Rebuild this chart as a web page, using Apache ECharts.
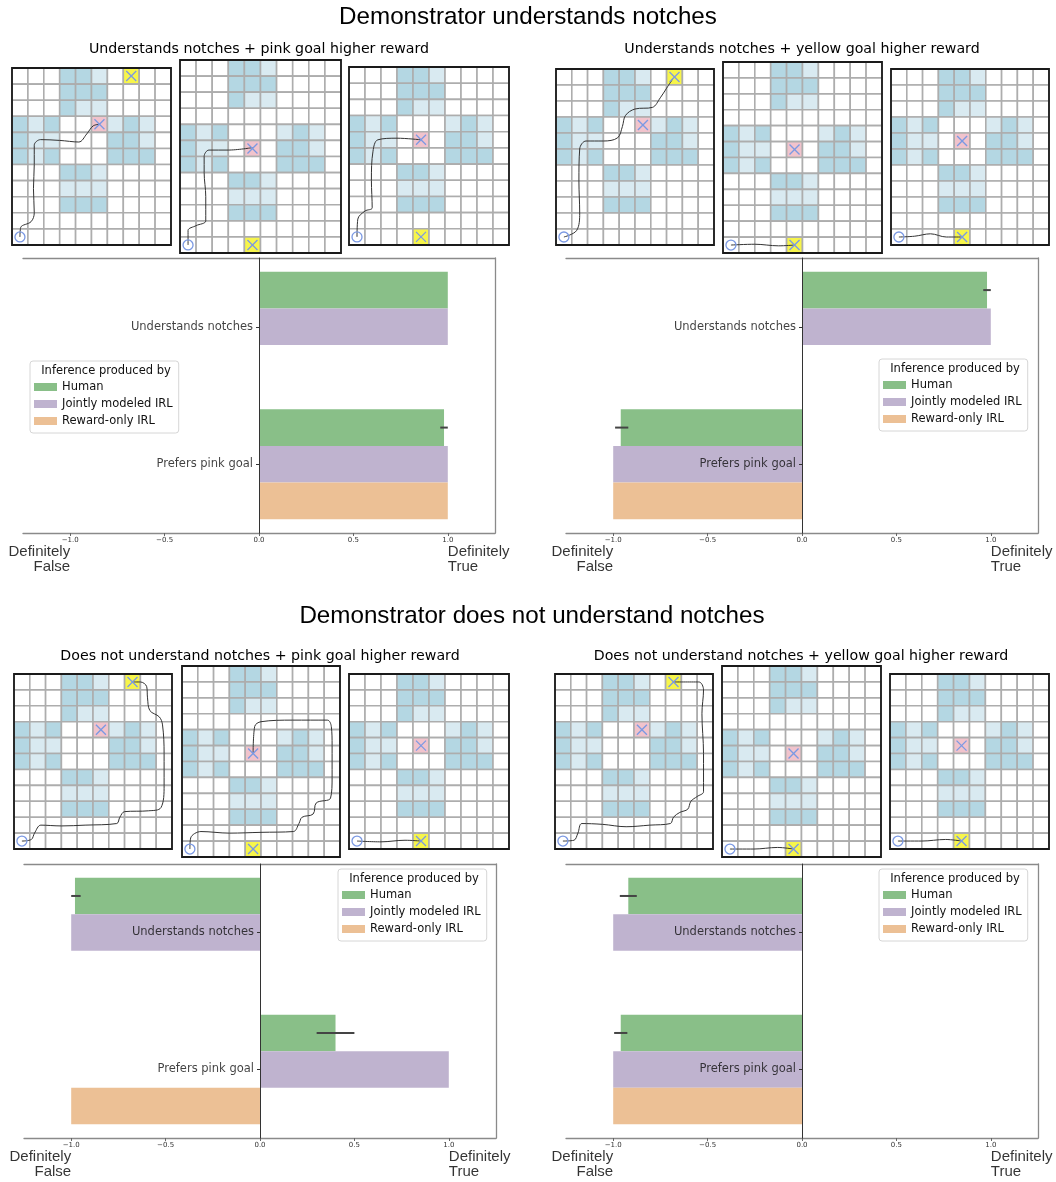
<!DOCTYPE html>
<html>
<head>
<meta charset="utf-8">
<script src="https://cdn.jsdelivr.net/npm/echarts@6.0.0/dist/echarts.min.js"></script>
<style>
html,body{margin:0;padding:0;background:#fff;}
#chart{width:1056px;height:1182px;}
</style>
</head>
<body>
<div id="chart"></div>
<script>
// ---------------- DATA ----------------
// Gridworld layouts: '.' empty, 'L' light notch, 'D' dark wall, 'P' pink goal, 'Y' yellow goal
const layoutA = [
  "...DDL.Y..",
  "...DDD....",
  "...DLL....",
  "DLD..PLDL.",
  "DLL...DDL.",
  "DLD...DDD.",
  "...DDL....",
  "...LLL....",
  "...DDD....",
  "..........",
  ".........."
];
const layoutB = [
  "...DDL....",
  "...DDD....",
  "...DLL....",
  "..........",
  "DLD...LDL.",
  "DLL.P.DDL.",
  "DLD...DDD.",
  "...DDL....",
  "...LLL....",
  "...DDD....",
  "..........",
  "....Y....."
];
const layoutC = [
  "...DDL....",
  "...DDD....",
  "...DLL....",
  "DLD...LDL.",
  "DLL.P.DDL.",
  "DLD...DDD.",
  "...DDL....",
  "...LLL....",
  "...DDD....",
  "..........",
  "....Y....."
];

// Trajectories (column, row)
const trajTL_A = [[0.5,10.5],[0.55,9.9],[1.2,9.55],[1.4,9.0],[1.35,7.5],[1.4,6],[1.4,4.8],[1.8,4.45],[3,4.5],[4.2,4.6],[4.7,4.1],[5.1,3.6],[5.5,3.5]];
const trajTL_B = [[0.5,11.5],[0.5,10.6],[1.0,10.3],[1.6,10.0],[1.6,8.5],[1.5,7],[1.5,6.0],[1.8,5.6],[3,5.6],[4.5,5.45]];
const trajTL_C = [[0.5,10.5],[0.55,9.4],[1.0,8.9],[1.45,8.7],[1.4,7],[1.5,5.2],[1.8,4.5],[3,4.4],[4.5,4.5]];
const trajTR_A = [[0.5,10.5],[1.3,10.1],[1.5,9],[1.45,7],[1.5,5],[1.9,4.5],[3,4.5],[3.9,4.3],[4.2,3.6],[4.4,2.9],[5,2.5],[6.1,2.4],[6.6,1.8],[7.0,1.2],[7.4,0.6]];
const trajTR_B = [[0.5,11.5],[2,11.45],[3.5,11.55],[4.5,11.5]];
const trajTR_C = [[0.5,10.5],[1.5,10.45],[2.5,10.3],[3.5,10.5],[4.5,10.5]];
const trajBL_A = [[0.5,10.5],[1.1,10.4],[1.3,10.0],[1.7,9.5],[3,9.55],[4.5,9.5],[6.5,9.4],[6.7,9.0],[7.0,8.65],[8.5,8.6],[9.3,8.4],[9.5,7],[9.5,5],[9.4,3.2],[9.2,2.7],[8.6,2.3],[8.45,1.5],[8.4,0.8],[8.0,0.5],[7.5,0.5]];
const trajBL_B = [[0.5,11.5],[0.55,10.8],[1.2,10.4],[3,10.5],[5,10.45],[7.05,10.4],[7.4,9.9],[7.6,9.5],[8.3,9.3],[8.5,8.6],[9.4,8.3],[9.5,7],[9.5,5],[9.45,3.8],[9.2,3.4],[7,3.4],[5,3.5],[4.6,3.8],[4.5,5.5]];
const trajBL_C = [[0.5,10.5],[2,10.55],[3.5,10.45],[4.5,10.5]];
const trajBR_A = [[0.5,10.5],[1.2,10.45],[1.45,10.0],[1.7,9.4],[3,9.45],[4.5,9.6],[6,9.5],[7.3,9.4],[7.5,9.0],[7.9,8.7],[8.4,8.5],[8.6,8.0],[9.0,7.7],[9.4,7.4],[9.4,5],[9.3,2.5],[9.4,1.0],[9.1,0.5],[7.5,0.5]];
const trajBR_B = [[0.5,11.5],[2,11.5],[3.5,11.4],[4.5,11.5]];
const trajBR_C = [[0.5,10.5],[2,10.5],[3.5,10.4],[4.5,10.5]];

// Bar chart data
const categories = ['Understands notches', 'Prefers pink goal'];
const seriesNames = ['Human', 'Jointly modeled IRL', 'Reward-only IRL'];
const xTicks = [-1, -0.5, 0, 0.5, 1];

const humanTL = [1.0, 0.98];
const jointTL = [1.0, 1.0];
const rewardTL = [null, 1.0];
const errTL = [[0.96, 1.0, 1]];

const humanTR = [0.98, -0.96];
const jointTR = [1.0, -1.0];
const rewardTR = [null, -1.0];
const errTR = [[0.96, 1.0, 0], [-0.99, -0.92, 1]];

const humanBL = [-0.98, 0.40];
const jointBL = [-1.0, 1.0];
const rewardBL = [null, -1.0];
const errBL = [[-1.0, -0.95, 0], [0.30, 0.50, 1]];

const humanBR = [-0.92, -0.96];
const jointBR = [-1.0, -1.0];
const rewardBR = [null, -1.0];
const errBR = [[-0.965, -0.875, 0], [-0.995, -0.925, 1]];

// ---------------- STYLE / LAYOUT ----------------
const DJ = 'DejaVu Sans';
const AR = 'Liberation Sans, Arial, sans-serif';
const cellColors = ['#ffffff', '#d9eaf1', '#b4d7e3', '#f1c3cc', '#f7f54a'];
const barColors = ['#89bf88', '#bfb3cf', '#ecc095'];
const markColor = '#7b99e3';

const option = {animation: false, backgroundColor: '#fff', grid: [], xAxis: [], yAxis: [], series: [], legend: [], graphic: []};
function push(key, obj) { option[key].push(obj); return option[key].length - 1; }

const CELL = {'.': 0, 'L': 1, 'D': 2, 'P': 3, 'Y': 4};
function cellsOf(layout) {
  const out = [];
  layout.forEach((row, r) => { for (let c = 0; c < row.length; c++) out.push([c, r, CELL[row[c]]]); });
  return out;
}
function goalsOf(layout) {
  const out = [];
  layout.forEach((row, r) => { for (let c = 0; c < row.length; c++) if (row[c] === 'P' || row[c] === 'Y') out.push([c + 0.5, r + 0.5, 0]); });
  return out;
}

function gridworld(box, layout, traj) {
  const rows = layout.length, cols = layout[0].length;
  const gi = push('grid', {left: box[0], top: box[1], width: box[2], height: box[3], containLabel: false, outerBoundsMode: 'none'});
  const xi = push('xAxis', {type: 'value', gridIndex: gi, min: 0, max: cols, show: false});
  const yi = push('yAxis', {type: 'value', gridIndex: gi, min: 0, max: rows, inverse: true, show: false});
  push('series', {
    type: 'custom', xAxisIndex: xi, yAxisIndex: yi, silent: true, z: 1,
    data: cellsOf(layout), encode: {x: 0, y: 1},
    renderItem: function (params, api) {
      const c = api.value(0), r = api.value(1), t = api.value(2);
      const p0 = api.coord([c, r]), p1 = api.coord([c + 1, r + 1]);
      return {type: 'rect', shape: {x: Math.min(p0[0], p1[0]), y: Math.min(p0[1], p1[1]), width: Math.abs(p1[0] - p0[0]), height: Math.abs(p1[1] - p0[1])},
        style: {fill: cellColors[t], stroke: '#adadad', lineWidth: 1.6}};
    }
  });
  push('series', {
    type: 'line', xAxisIndex: xi, yAxisIndex: yi, data: traj, smooth: 0.35, symbol: 'none', silent: true, z: 3,
    lineStyle: {color: '#333', width: 1}
  });
  push('series', {
    type: 'custom', xAxisIndex: xi, yAxisIndex: yi, silent: true, z: 4,
    data: goalsOf(layout).concat([[0.5, rows - 0.5, 1]]), encode: {x: 0, y: 1},
    renderItem: function (params, api) {
      const p = api.coord([api.value(0), api.value(1)]);
      const s = 5;
      if (api.value(2) === 1) {
        return {type: 'circle', shape: {cx: p[0], cy: p[1], r: 5}, style: {fill: 'none', stroke: markColor, lineWidth: 1.3}};
      }
      return {type: 'group', children: [
        {type: 'line', shape: {x1: p[0] - s, y1: p[1] - s, x2: p[0] + s, y2: p[1] + s}, style: {stroke: markColor, lineWidth: 1.3}},
        {type: 'line', shape: {x1: p[0] + s, y1: p[1] - s, x2: p[0] - s, y2: p[1] + s}, style: {stroke: markColor, lineWidth: 1.3}}
      ]};
    }
  });
  push('series', {
    type: 'custom', xAxisIndex: xi, yAxisIndex: yi, silent: true, z: 5,
    data: [[0, 0, cols, rows]], encode: {x: [0, 2], y: [1, 3]},
    renderItem: function (params, api) {
      const p0 = api.coord([api.value(0), api.value(1)]), p1 = api.coord([api.value(2), api.value(3)]);
      return {type: 'rect', shape: {x: Math.min(p0[0], p1[0]), y: Math.min(p0[1], p1[1]), width: Math.abs(p1[0] - p0[0]), height: Math.abs(p1[1] - p0[1])},
        style: {fill: 'none', stroke: '#1a1a1a', lineWidth: 1.8}};
    }
  });
}

function fmtTick(v) { return (v < 0 ? '\u2212' : '') + Math.abs(v).toFixed(1); }

function barPanel(box, vals, err, legendBox) {
  const gi = push('grid', {left: box[0], top: box[1], width: box[2], height: box[3], containLabel: false, outerBoundsMode: 'none'});
  const x0 = push('xAxis', {
    type: 'value', gridIndex: gi, min: -1.25, max: 1.25, position: 'bottom',
    axisLine: {show: true, onZero: false, lineStyle: {color: '#8a8a8a', width: 1.3}},
    axisTick: {show: true, customValues: xTicks, length: 3, lineStyle: {color: '#666'}},
    axisLabel: {show: true, customValues: xTicks, fontSize: 7, color: '#333', margin: 4, fontFamily: DJ, formatter: fmtTick},
    splitLine: {show: false}
  });
  push('xAxis', {
    type: 'value', gridIndex: gi, min: -1.25, max: 1.25, position: 'top',
    axisLine: {show: true, onZero: false, lineStyle: {color: '#8a8a8a', width: 1.3}},
    axisTick: {show: false}, axisLabel: {show: false}, splitLine: {show: false}
  });
  const y0 = push('yAxis', {
    type: 'category', gridIndex: gi, data: categories, inverse: true, z: 10,
    axisLine: {show: true, onZero: true, lineStyle: {color: '#333', width: 1}},
    axisTick: {show: true, length: 3, alignWithLabel: true, lineStyle: {color: '#333'}},
    axisLabel: {show: false}
  });
  const y1 = push('yAxis', {
    type: 'value', gridIndex: gi, min: 0, max: 1, position: 'right',
    axisLine: {show: true, onZero: false, lineStyle: {color: '#8a8a8a', width: 1.3}},
    axisTick: {show: false}, axisLabel: {show: false}, splitLine: {show: false}
  });
  vals.forEach((d, i) => {
    push('series', {
      type: 'bar', name: seriesNames[i], xAxisIndex: x0, yAxisIndex: y0, data: d,
      barGap: '0%', barCategoryGap: '20%', itemStyle: {color: barColors[i]}, silent: true, z: 2
    });
  });
  push('series', {
    type: 'custom', xAxisIndex: x0, yAxisIndex: y0, silent: true, z: 6, data: err, encode: {x: [0, 1], y: 2},
    renderItem: function (params, api) {
      const ci = api.value(2);
      const p0 = api.coord([api.value(0), ci]), p1 = api.coord([api.value(1), ci]);
      const band = api.size([0, 1])[1];
      const y = p0[1] - band * 0.8 / 3;
      return {type: 'line', shape: {x1: p0[0], y1: y, x2: p1[0], y2: y}, style: {stroke: '#444', lineWidth: 2}};
    }
  });
  // category labels placed at the zero line (matplotlib style)
  push('series', {
    type: 'scatter', xAxisIndex: x0, yAxisIndex: y0, symbolSize: 0, silent: true, clip: false, z: 8,
    data: categories.map(c => [0, c]),
    label: {show: true, position: 'left', distance: 6, fontSize: 11.5, fontFamily: DJ, color: '#111',
      textBorderWidth: 0, formatter: p => p.value[1]}
  });
  push('series', {
    type: 'scatter', xAxisIndex: x0, yAxisIndex: y1, symbolSize: 0, silent: true, clip: false, z: 6,
    label: {show: true, position: [0, 11], verticalAlign: 'top', fontSize: 15, lineHeight: 15.5, fontFamily: AR, color: '#000', textBorderWidth: 0},
    data: [
      {value: [-1, 0], label: {formatter: 'Definitely\nFalse', align: 'right'}},
      {value: [1, 0], label: {formatter: 'Definitely\nTrue', align: 'left'}}
    ]
  });
  push('legend', {
    data: seriesNames, orient: 'vertical', left: legendBox[0], top: legendBox[1], icon: 'rect',
    itemWidth: 23, itemHeight: 8, itemGap: 3, padding: [19, 6, 5, 4], selectedMode: false,
    backgroundColor: '#fff', borderColor: '#d6d6d6', borderWidth: 1, borderRadius: 3,
    textStyle: {fontSize: 11.5, lineHeight: 14, color: '#111', fontFamily: DJ}
  });
  option.graphic.push({type: 'text', x: legendBox[0] + 76, y: legendBox[1] + 10, z: 100,
    style: {text: 'Inference produced by', fontSize: 11.5, fontFamily: DJ, fill: '#111', align: 'center', verticalAlign: 'middle'}});
}

function titleText(x, y, text, size, family) {
  option.graphic.push({type: 'text', x: x, y: y, style: {text: text, fontSize: size, fontFamily: family, fill: '#000', align: 'center', verticalAlign: 'middle'}});
}

// ---------------- BUILD ----------------
titleText(528, 17, 'Demonstrator understands notches', 24.2, AR);
titleText(532, 616, 'Demonstrator does not understand notches', 24.2, AR);
titleText(259, 49, 'Understands notches + pink goal higher reward', 14.2, DJ);
titleText(802, 49, 'Understands notches + yellow goal higher reward', 14.2, DJ);
titleText(260, 656, 'Does not understand notches + pink goal higher reward', 14.2, DJ);
titleText(801, 656, 'Does not understand notches + yellow goal higher reward', 14.2, DJ);

gridworld([12, 68, 159, 177], layoutA, trajTL_A);
gridworld([180, 60, 161, 193], layoutB, trajTL_B);
gridworld([349, 67, 160, 178], layoutC, trajTL_C);
gridworld([556, 69, 158, 176], layoutA, trajTR_A);
gridworld([723, 62, 159, 191], layoutB, trajTR_B);
gridworld([891, 69, 158, 176], layoutC, trajTR_C);
gridworld([14, 674, 158, 175], layoutA, trajBL_A);
gridworld([182, 666, 158, 191], layoutB, trajBL_B);
gridworld([349, 674, 160, 175], layoutC, trajBL_C);
gridworld([555, 674, 158, 175], layoutA, trajBR_A);
gridworld([722, 666, 159, 191], layoutB, trajBR_B);
gridworld([890, 674, 159, 175], layoutC, trajBR_C);

barPanel([23, 258, 472, 275], [humanTL, jointTL, rewardTL], errTL, [30, 361]);
barPanel([566, 258, 472, 275], [humanTR, jointTR, rewardTR], errTR, [879, 359]);
barPanel([24, 864, 472, 274], [humanBL, jointBL, rewardBL], errBL, [338, 869]);
barPanel([566, 864, 472, 274], [humanBR, jointBR, rewardBR], errBR, [879, 869]);

const chart = echarts.init(document.getElementById('chart'), null, {renderer: 'canvas'});
chart.setOption(option);
</script>
</body>
</html>
